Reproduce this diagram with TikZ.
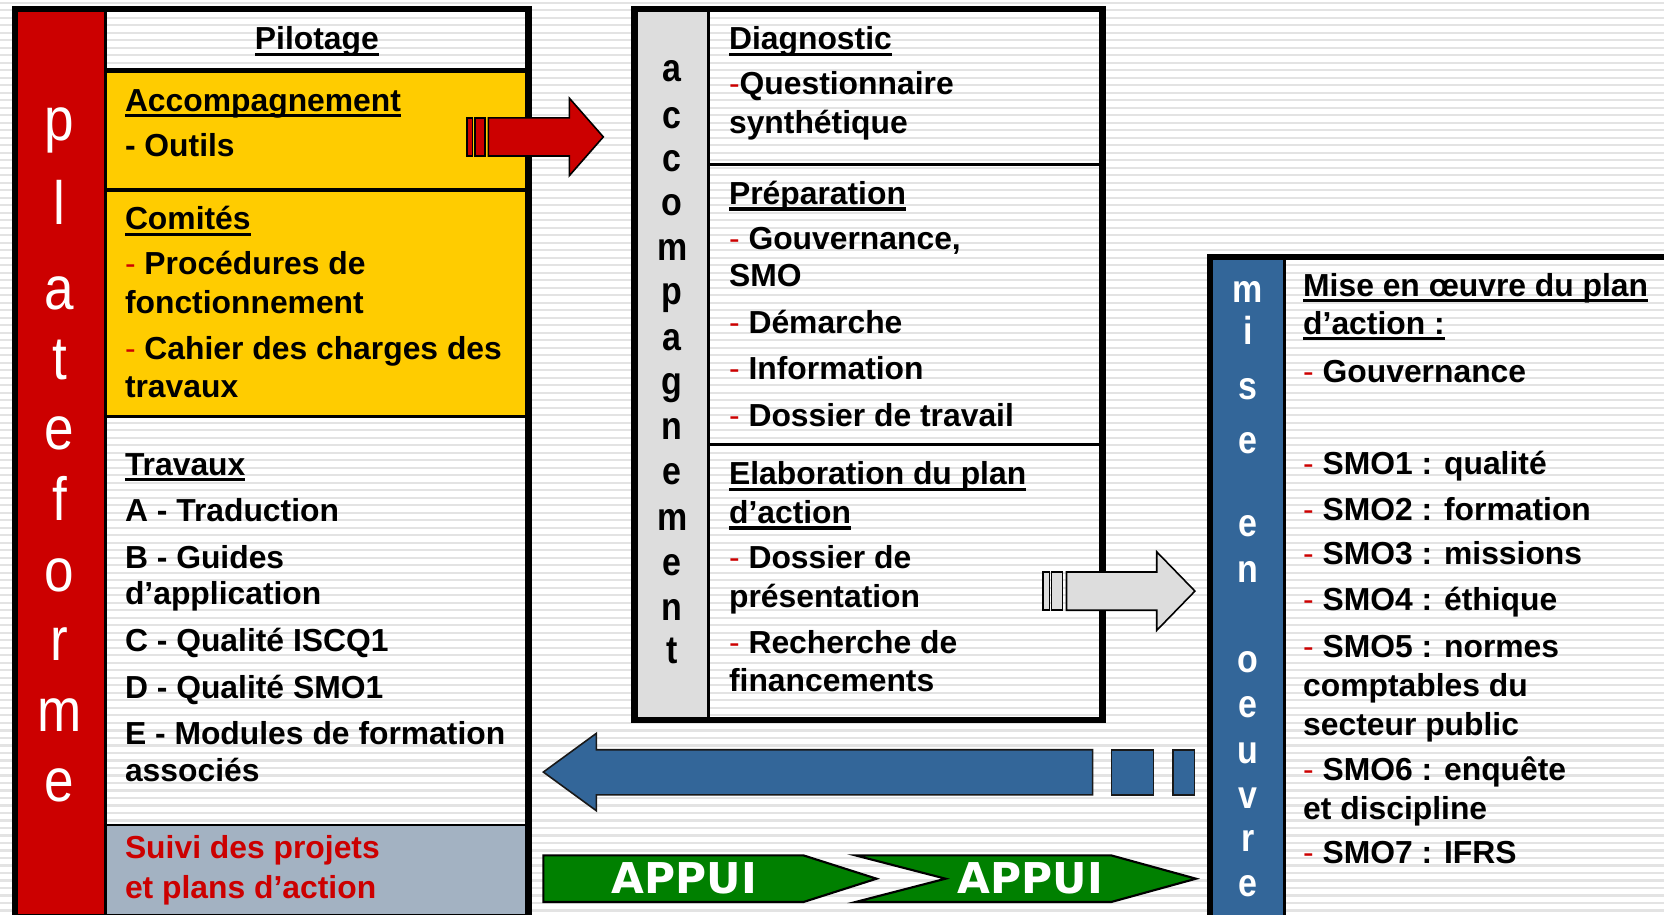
\documentclass[tikz,border=0pt]{standalone}
\usepackage{graphicx}
\usepackage{fontspec}
\setmainfont{Liberation Sans}
\newfontfamily\appuifont{DejaVu Sans}
\definecolor{pred}{HTML}{CC0000}
\definecolor{pyellow}{HTML}{FFCC00}
\definecolor{pgrey}{HTML}{DDDDDD}
\definecolor{pblue}{HTML}{336699}
\definecolor{psuivi}{HTML}{A3B2C2}
\definecolor{pgreen}{HTML}{008000}
\definecolor{pstripe}{HTML}{E3E3E3}
\newcommand\ulin[1]{\sbox0{#1}\rlap{\rule[-5.5pt]{\wd0}{3pt}}\usebox0}
\newcommand\rdash{{\color{pred}\mdseries -}\ }
\newcommand\rdashns{{\color{pred}\mdseries -}}
\tikzset{
  txt/.style={anchor=base west, inner sep=0pt, outer sep=0pt, font=\fontsize{30}{36}\selectfont\bfseries},
  vletL/.style={anchor=base, inner sep=0pt, text=white, font=\fontsize{50}{50}\selectfont},
  vletM/.style={anchor=base, inner sep=0pt, text=black, font=\fontsize{32}{32}\selectfont\bfseries},
  vletR/.style={anchor=base, inner sep=0pt, text=white, font=\fontsize{32}{32}\selectfont\bfseries},
  frame/.style={draw=black, line width=6pt},
  divider/.style={draw=black, line width=3pt},
  blockarrow/.style={draw=black, line width=1.5pt, line join=miter},
  appui/.style={anchor=base, inner sep=0pt, text=white, font=\fontsize{40}{40}\selectfont\appuifont\bfseries},
  stripe/.style={draw=pstripe, line width=2pt},
}
\begin{document}
\begin{tikzpicture}[x=1pt,y=-1pt]
\useasboundingbox (0,0) rectangle (1568,862);
\clip (0,0) rectangle (1568,862);
\fill[white] (0,0) rectangle (1568,862);
\foreach \k in {0,...,122} \draw[stripe] (0,2.5+7.07*\k) -- (1568,2.5+7.07*\k);

% ---------- left box: plateforme ----------
\fill[pred] (14,8.5) rectangle (99.3,866);
\fill[pyellow] (99.3,66.4) rectangle (498,392.5);
\fill[psuivi] (99.3,777.3) rectangle (498,866);
\draw[divider, line width=3.5pt] (99.3,8.5) -- (99.3,866);
\draw[divider, line width=4pt] (99.3,66.4) -- (498,66.4);
\draw[divider] (99.3,179) -- (498,179);
\draw[divider] (99.3,392.5) -- (498,392.5);
\draw[divider, line width=2.5pt] (99.3,777.3) -- (498,777.3);
\draw[frame] (14,8.5) rectangle (498,864);

% ---------- middle box: accompagnement ----------
\fill[pgrey] (598,8.5) rectangle (667.8,678.7);
\draw[divider] (667.8,8.5) -- (667.8,678.7);
\draw[divider, line width=2.5pt] (667.8,155) -- (1039,155);
\draw[divider] (667.8,419) -- (1039,419);
\draw[frame] (598,8.5) rectangle (1039,678.7);

% ---------- right box: mise en oeuvre ----------
\fill[pblue] (1140,242) rectangle (1210.5,890);
\draw[divider] (1210.5,242) -- (1210.5,890);
\draw[frame] (1140,242) rectangle (1600,890);

% ---------- vertical words ----------
\foreach \c/\y [count=\i] in {p/132,l/212,a/292,t/358,e/424,f/490,o/557,r/622,m/689,e/755}
  \node[vletL] (pl\i) at (56,\y) {\scalebox{1}[1.15]{\c}};
\foreach \c/\y [count=\i] in {a/77,c/121,c/162,o/203,m/245,p/287,a/330,g/372,n/414,e/457,m/500,e/542,n/585,t/625}
  \node[vletM] (ac\i) at (633.5,\y) {\scalebox{1}[1.15]{\c}};
\foreach \c/\y [count=\i] in {m/285,i/325,s/376,e/427,e/506,n/549,o/634,e/676,u/719,v/762,r/802,e/845}
  \node[vletR] (mo\i) at (1176,\y) {\scalebox{1}[1.15]{\c}};

% ---------- left box text ----------
\node[txt, anchor=base] (pilot) at (298.6,47) {\ulin{Pilotage}};
\node[txt] (la1) at (117.8,105.2) {\ulin{Accompagnement}};
\node[txt] (la2) at (117.8,147.6) {- Outils};
\node[txt] (lb1) at (117.8,216.7) {\ulin{Comités}};
\node[txt] (lb2) at (117.8,259) {\rdash Procédures de};
\node[txt] (lb3) at (117.8,295) {fonctionnement};
\node[txt] (lb4) at (117.8,339) {\rdash Cahier des charges des};
\node[txt] (lb5) at (117.8,375) {travaux};
\node[txt] (lc1) at (117.8,447.6) {\ulin{Travaux}};
\node[txt] (lc2) at (117.8,491.5) {A - Traduction};
\node[txt] (lc3) at (117.8,535.5) {B - Guides};
\node[txt] (lc4) at (117.8,570) {d’application};
\node[txt] (lc5) at (117.8,614) {C - Qualité ISCQ1};
\node[txt] (lc6) at (117.8,658) {D - Qualité SMO1};
\node[txt] (lc7) at (117.8,702) {E - Modules de formation};
\node[txt] (lc8) at (117.8,736.5) {associés};
\node[txt, text=pred] (ld1) at (117.8,808.7) {Suivi des projets};
\node[txt, text=pred] (ld2) at (117.8,846.3) {et plans d’action};

% ---------- middle box text ----------
\node[txt] (ma1) at (687,47) {\ulin{Diagnostic}};
\node[txt] (ma2) at (687,89.5) {\rdashns Questionnaire};
\node[txt] (ma3) at (687,125.6) {synthétique};
\node[txt] (mb1) at (687,193) {\ulin{Préparation}};
\node[txt] (mb2) at (687,235.5) {\rdash Gouvernance,};
\node[txt] (mb3) at (687,270) {SMO};
\node[txt] (mb4) at (687,314) {\rdash Démarche};
\node[txt] (mb5) at (687,358) {\rdash Information};
\node[txt] (mb6) at (687,402) {\rdash Dossier de travail};
\node[txt] (mc1) at (687,457) {\ulin{Elaboration du plan}};
\node[txt] (mc2) at (687,493.5) {\ulin{d’action}};
\node[txt] (mc3) at (687,536) {\rdash Dossier de};
\node[txt] (mc4) at (687,572) {présentation};
\node[txt] (mc5) at (687,616) {\rdash Recherche de};
\node[txt] (mc6) at (687,652) {financements};

% ---------- right box text ----------
\node[txt] (r1) at (1228,279) {\ulin{Mise en œuvre du plan}};
\node[txt] (r2) at (1228,315) {\ulin{d’action :}};
\node[txt] (r3) at (1228,360) {\rdash Gouvernance};
\node[txt] (r4) at (1228,447) {\rdash SMO1 : qualité};
\node[txt] (r5) at (1228,490) {\rdash SMO2 : formation};
\node[txt] (r6) at (1228,532) {\rdash SMO3 : missions};
\node[txt] (r7) at (1228,575) {\rdash SMO4 : éthique};
\node[txt] (r8) at (1228,620) {\rdash SMO5 : normes};
\node[txt] (r9) at (1228,656) {comptables du};
\node[txt] (r10) at (1228,693) {secteur public};
\node[txt] (r11) at (1228,735) {\rdash SMO6 : enquête};
\node[txt] (r12) at (1228,772) {et discipline};
\node[txt] (r13) at (1228,814) {\rdash SMO7 : IFRS};

% ---------- red striped arrow ----------
\filldraw[blockarrow, fill=pred] (439.8,111) rectangle (445.4,147);
\filldraw[blockarrow, fill=pred] (447.6,111) rectangle (457,147);
\filldraw[blockarrow, fill=pred] (460.2,111) -- (536.5,111) -- (536.5,92.5) -- (568.5,129) -- (536.5,165.5) -- (536.5,147) -- (460.2,147) -- cycle;

% ---------- grey striped arrow ----------
\filldraw[blockarrow, fill=pgrey] (983,539) rectangle (989,575);
\filldraw[blockarrow, fill=pgrey] (991,539) rectangle (1001,575);
\filldraw[blockarrow, fill=pgrey] (1005,539) -- (1090,539) -- (1090,520) -- (1126,557) -- (1090,594) -- (1090,575) -- (1005,575) -- cycle;

% ---------- blue left arrow ----------
\filldraw[blockarrow, draw=black!90, fill=pblue] (512,727.5) -- (562,691) -- (562,706.5) -- (1029.5,706.5) -- (1029.5,749) -- (562,749) -- (562,764) -- cycle;
\filldraw[blockarrow, draw=black!90, fill=pblue] (1047.5,706.5) rectangle (1087,749);
\filldraw[blockarrow, draw=black!90, fill=pblue] (1105.5,706.5) rectangle (1125.5,749);

% ---------- green APPUI chevrons ----------
\filldraw[blockarrow, line width=2pt, fill=pgreen] (512,806) -- (757,806) -- (826,828) -- (757,850) -- (512,850) -- cycle;
\filldraw[blockarrow, line width=2pt, fill=pgreen] (806,806) -- (1047,806) -- (1127,828) -- (1047,850) -- (806,850) -- (891,828) -- cycle;
\node[appui] (ap1) at (645,842) {APPUI};
\node[appui] (ap2) at (971,842) {APPUI};
\end{tikzpicture}
\end{document}
